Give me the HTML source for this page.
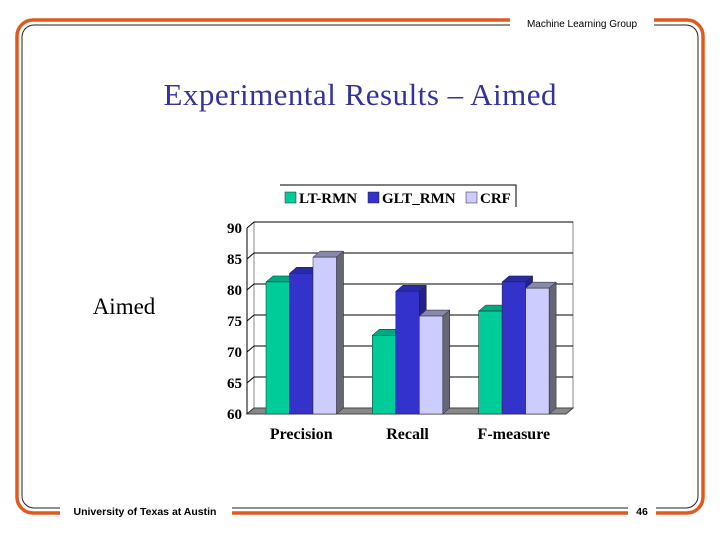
<!DOCTYPE html>
<html><head><meta charset="utf-8"><style>
body{margin:0;background:#fff;width:720px;height:540px;overflow:hidden}
text{font-family:"Liberation Serif",serif}
</style></head><body>
<svg width="720" height="540">
<g>
<rect x="17" y="20" width="686" height="493" rx="16" fill="none" stroke="#e05a1e" stroke-width="3.5"/>
<rect x="22" y="25" width="676" height="483" rx="12" fill="none" stroke="#222" stroke-width="1"/>
<rect x="510" y="12" width="144" height="18" fill="#fff"/>
<rect x="60" y="503" width="172" height="18" fill="#fff"/>
<rect x="628" y="503" width="28" height="18" fill="#fff"/>
</g>
<text x="582" y="27" font-size="10" text-anchor="middle" style="font-family:'Liberation Sans',sans-serif">Machine Learning Group</text>
<text x="145" y="515" font-size="10.5" text-anchor="middle" style="font-family:'Liberation Sans',sans-serif;font-weight:bold">University of Texas at Austin</text>
<text x="642" y="515" font-size="10.5" text-anchor="middle" style="font-family:'Liberation Sans',sans-serif;font-weight:bold">46</text>
<text x="360" y="105" font-size="31" fill="#333399" text-anchor="middle" textLength="393">Experimental Results – Aimed</text>
<text x="124" y="314" font-size="23" text-anchor="middle">Aimed</text>
<g id="legend">
<polyline points="280,185 516,185 516,207" fill="none" stroke="#000" stroke-width="1"/>
</g>
<g id="chart"></g>
</svg>
<script>
const categories=["Precision","Recall","F-measure"];
const seriesNames=["LT-RMN","GLT_RMN","CRF"];
const ltRmn=[81.3,72.7,76.6];
const gltRmn=[82.7,79.8,81.3];
const crf=[85.3,75.8,80.3];
const ticks=[60,65,70,75,80,85,90];
const series=[ltRmn,gltRmn,crf];
const colors=[["#00cc99","#009977","#00aa80"],["#3333cc","#22228a","#2a2aa8"],["#ccccff","#8888aa","#aaaadd"]];
const NS="http://www.w3.org/2000/svg";
const g=document.getElementById('chart');
function mk(t,a){const e=document.createElementNS(NS,t);for(const k in a)e.setAttribute(k,a[k]);return e;}
const dx=7,dy=6,x0=247,x1=566,yBase=414,pxPer=6.2;
function y(v){return yBase-(v-60)*pxPer;}
let wall=mk('rect',{x:x0+dx,y:y(90)-dy,width:x1-x0,height:y(60)-y(90),fill:'#fff',stroke:'#888'});
g.appendChild(wall);
ticks.forEach(t=>{
 const l=mk('polyline',{points:`${x0},${y(t)} ${x0+dx},${y(t)-dy} ${x1+dx},${y(t)-dy}`,fill:'none',stroke:'#000','stroke-width':1});
 g.appendChild(l);
 const tx=mk('text',{x:242,y:y(t)+5,'font-size':15,'font-weight':'bold','text-anchor':'end'});tx.textContent=t;
 g.appendChild(tx);
});
const floor=mk('polygon',{points:`${x0},${yBase} ${x0+dx},${yBase-dy} ${x1+dx},${yBase-dy} ${x1},${yBase}`,fill:'#888',stroke:'#444'});
g.appendChild(floor);
const ax=mk('line',{x1:x0,y1:y(90),x2:x0,y2:yBase,stroke:'#000'});
g.appendChild(ax);
const groupW=106.3,bw=23.5,gx0=266;
categories.forEach((c,i)=>{
 const gx=gx0+i*groupW;
 series.forEach((s,j)=>{
  const bx=gx+j*bw,by=y(s[i]);
  const grp=mk('g',{});
  
  
  grp.appendChild(mk('polygon',{points:`${bx+bw},${by} ${bx+bw+dx},${by-dy} ${bx+bw+dx},${yBase-dy} ${bx+bw},${yBase}`,fill:j==2?'#666677':colors[j][1],stroke:'#222','stroke-width':.5}));
  grp.appendChild(mk('polygon',{points:`${bx},${by} ${bx+dx},${by-dy} ${bx+bw+dx},${by-dy} ${bx+bw},${by}`,fill:colors[j][j==2?1:2],stroke:'#222','stroke-width':.5}));
  grp.appendChild(mk('rect',{x:bx,y:by,width:bw,height:yBase-by,fill:colors[j][0],stroke:'#222','stroke-width':.5}));
  g.appendChild(grp);
 });
 const t=mk('text',{x:gx+bw*1.5,y:439,'font-size':16,'font-weight':'bold','text-anchor':'middle'});t.textContent=c;
 g.appendChild(t);
});
const lg=document.getElementById('legend');
const lx=[285,368,466];
seriesNames.forEach((n,j)=>{
 const r=mk('rect',{x:lx[j],y:192,width:11,height:11,fill:colors[j][0],stroke:'#222','stroke-width':.5});
 lg.appendChild(r);
 const t=mk('text',{x:lx[j]+14,y:203,'font-size':15,'font-weight':'bold'});t.textContent=n;
 lg.appendChild(t);
});
</script>
</body></html>
